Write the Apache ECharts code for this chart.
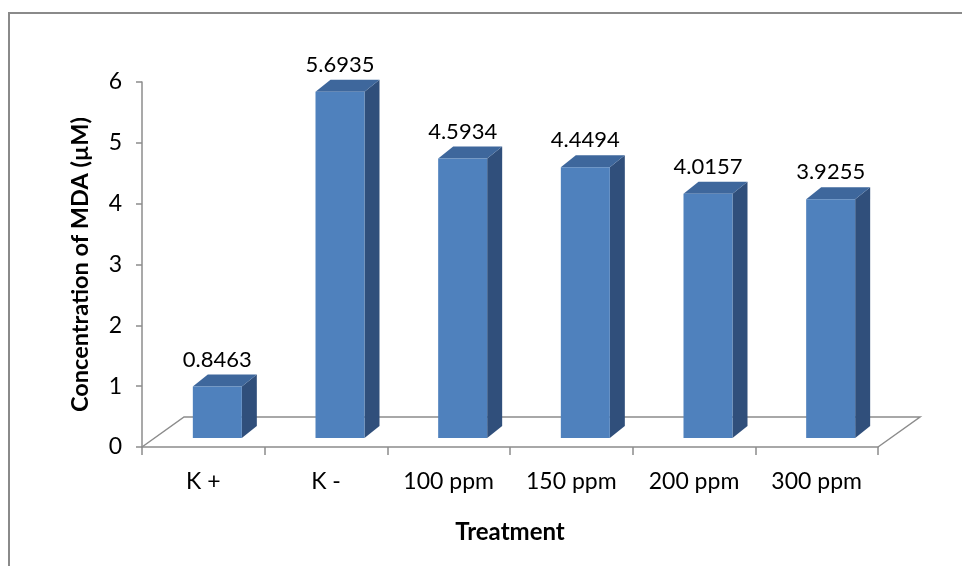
<!DOCTYPE html>
<html>
<head>
<meta charset="utf-8">
<title>Concentration of MDA</title>
<script src="https://cdn.jsdelivr.net/npm/echarts@6/dist/echarts.min.js"></script>
<style>
  html, body { margin: 0; padding: 0; background: #ffffff; }
  #chart { width: 962px; height: 566px; }
</style>
</head>
<body>
<div id="chart"></div>
<script>
// Treatments and measured MDA concentrations (µM)
var categories = ['K +', 'K -', '100 ppm', '150 ppm', '200 ppm', '300 ppm'];
var mdaValues = [0.8463, 5.6935, 4.5934, 4.4494, 4.0157, 3.9255];
var yTicks = [0, 1, 2, 3, 4, 5, 6];

var FONT = 'Lato, "Open Sans", sans-serif';
var AXIS_GREY = '#8c8c8c';

// 3D look: bars sit a little behind the front edge of the floor
var BAR_W = 49;
var BAR_SHIFT_X = 14, BAR_SHIFT_Y = -9;
var BAR_DX = 15, BAR_DY = -12;
var FLOOR_DX = 42, FLOOR_DY = -30;

var FRONT = '#4f81bd', TOP = '#3e679c', SIDE = '#304f7b';

var chart = echarts.init(document.getElementById('chart'), null, { renderer: 'canvas' });

function renderBar(params, api) {
  var i = api.value(0);
  var v = api.value(1);
  var base = api.coord([i, 0]);
  var top = api.coord([i, v]);
  var x0 = base[0] + BAR_SHIFT_X - BAR_W / 2;
  var x1 = x0 + BAR_W;
  var yb = base[1] + BAR_SHIFT_Y;
  var yt = top[1] + BAR_SHIFT_Y;
  return {
    type: 'group',
    children: [
      { type: 'polygon', shape: { points: [[x1, yt], [x1 + BAR_DX, yt + BAR_DY], [x1 + BAR_DX, yb + BAR_DY], [x1, yb]] },
        style: { fill: SIDE } },
      { type: 'polygon', shape: { points: [[x0, yt], [x0 + BAR_DX, yt + BAR_DY], [x1 + BAR_DX, yt + BAR_DY], [x1, yt]] },
        style: { fill: TOP } },
      { type: 'rect', shape: { x: x0, y: yt, width: BAR_W, height: yb - yt },
        style: { fill: FRONT } },
      { type: 'text', x: (x0 + x1) / 2, y: yt - 27,
        style: { text: v.toFixed(4), fill: '#000', font: '22px ' + FONT, align: 'center', verticalAlign: 'middle' } }
    ]
  };
}

function renderFloor(params, api) {
  var first = api.coord([0, 0]);
  var last = api.coord([categories.length - 1, 0]);
  var bw = api.size([1, 0])[0];
  var L = first[0] - bw / 2, R = last[0] + bw / 2, Y = first[1];
  return {
    type: 'polyline',
    shape: { points: [[L, Y], [L + FLOOR_DX, Y + FLOOR_DY], [R + FLOOR_DX, Y + FLOOR_DY], [R, Y]] },
    style: { stroke: AXIS_GREY, lineWidth: 1.5, fill: null }
  };
}

chart.setOption({
  animation: false,
  backgroundColor: '#ffffff',
  graphic: [
    { type: 'rect', shape: { x: 9, y: 13, width: 980, height: 600 },
      style: { fill: null, stroke: '#8a8a8a', lineWidth: 2 }, z: 100 }
  ],
  grid: { left: 142, right: 84, top: 82, bottom: 119 },
  xAxis: {
    type: 'category',
    data: categories,
    name: 'Treatment',
    nameLocation: 'middle',
    nameGap: 73,
    nameTextStyle: { fontFamily: FONT, fontSize: 24, fontWeight: 'bold', color: '#000' },
    axisLine: { lineStyle: { color: AXIS_GREY, width: 1.5 } },
    axisTick: { show: true, length: 8, lineStyle: { color: AXIS_GREY, width: 1.5 } },
    axisLabel: { margin: 23, fontFamily: FONT, fontSize: 23, color: '#000' },
    splitLine: { show: false }
  },
  yAxis: {
    type: 'value',
    min: yTicks[0],
    max: yTicks[yTicks.length - 1],
    interval: 1,
    name: 'Concentration of MDA (µM)',
    nameLocation: 'middle',
    nameGap: 50,
    nameTextStyle: { fontFamily: FONT, fontSize: 23.5, fontWeight: 'bold', color: '#000' },
    axisLine: { show: true, lineStyle: { color: AXIS_GREY, width: 1.5 } },
    axisTick: { show: true, length: 6, lineStyle: { color: AXIS_GREY, width: 1.5 } },
    axisLabel: { margin: 20, fontFamily: FONT, fontSize: 23, color: '#000' },
    splitLine: { show: false }
  },
  series: [
    {
      type: 'custom',
      name: 'floor',
      renderItem: renderFloor,
      data: [[0, 0]],
      encode: { x: 0, y: 1 },
      clip: false,
      silent: true,
      z: 1
    },
    {
      type: 'custom',
      name: 'MDA',
      renderItem: renderBar,
      data: mdaValues.map(function (v, i) { return [i, v]; }),
      encode: { x: 0, y: 1 },
      clip: false,
      z: 2
    }
  ]
});
</script>
</body>
</html>
